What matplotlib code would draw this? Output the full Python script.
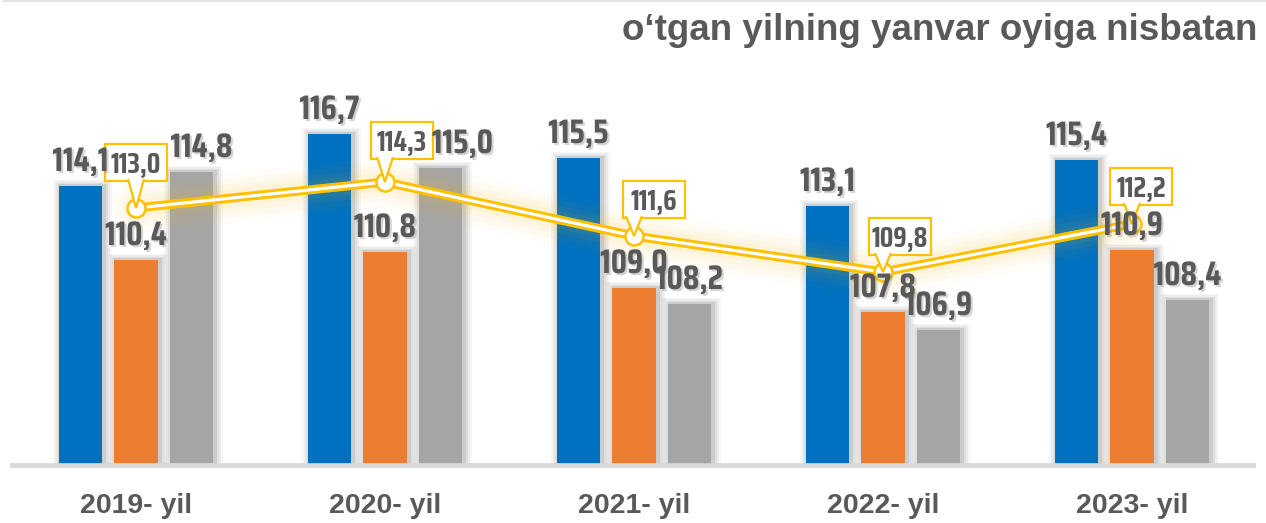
import numpy as np
import matplotlib.pyplot as plt
from matplotlib.lines import Line2D
from matplotlib.patches import Rectangle, Polygon
from matplotlib.textpath import TextPath
from matplotlib.font_manager import FontProperties
from matplotlib.transforms import ScaledTranslation
import matplotlib.patheffects as pe
from matplotlib import font_manager

YILLAR = ['2019- yil', '2020- yil', '2021- yil', '2022- yil', '2023- yil']
KOK = [114.1, 116.7, 115.5, 113.1, 115.4]
ZARG = [110.4, 110.8, 109.0, 107.8, 110.9]
KUL = [114.8, 115.0, 108.2, 106.9, 108.4]
CHIZIQ = [113.0, 114.3, 111.6, 109.8, 112.2]

# yorliq siljishlari (piksel)
KUL_SILJISH = [10, 22, 0, 0, 0]
BOX_DX = [0, 17, 20, 17, 9]
BOX_DY = [46, 42, 37, 36, 38]

# eng tor qalin shriftni tanlash ("114,1" kenglik/balandlik ~ 52/24)
ff = font_manager.fontManager.ttflist
NOMZOD = ['Fira Sans Extra Condensed', 'Fira Sans Condensed', 'Roboto Condensed',
          'Archivo Narrow', 'PT Sans Narrow', 'Liberation Sans Narrow', 'Barlow Condensed',
          'Saira ExtraCondensed', 'Saira Condensed', 'IBM Plex Sans Condensed',
          'Encode Sans Condensed', 'Asap Condensed', 'Barlow Semi Condensed',
          'Saira SemiCondensed']
OGIR = ['Fjalla One', 'Oswald', 'Anton']
best, best_d = 'Liberation Sans', 1e9
for nm in NOMZOD + OGIR:
    ws = [f.weight for f in ff if f.name == nm]
    ws = [w if isinstance(w, int) else 700 for w in ws]
    if not ws:
        continue
    if nm in NOMZOD and max(ws) < 600:
        continue
    fp_ = FontProperties(family=nm, weight='bold')
    try:
        h = TextPath((0, 0), '0', size=100, prop=fp_).get_extents().height
        wd = TextPath((0, 0), '114,1', size=100, prop=fp_).get_extents().width
    except Exception:
        continue
    d = abs(wd / h - 52 / 24) + (0.15 if nm in OGIR else 0)
    if d < best_d:
        best, best_d = nm, d
narrow = best
FP = FontProperties(family=narrow, weight='bold')
H0 = TextPath((0, 0), '0', size=100, prop=FP).get_extents().height
FS_BIG = 24 * 72 / H0   # raqam balandligi 24 px
FS_BOX = 20 * 72 / H0   # raqam balandligi 20 px

MATN = '#595959'
BLUE, ORANGE, GRAY, GOLD = '#0070C0', '#ED7D31', '#A5A5A5', '#FFC000'

fig = plt.figure(figsize=(12.66, 5.23), dpi=100)
ax = fig.add_axes([10 / 1266, 55 / 523, 1246 / 1266, 408 / 523])
ax.set_xlim(-0.506, 4.498)
ax.set_ylim(100, 120.4)
ax.axis('off')

x = np.arange(len(YILLAR))
w = 0.173
off = 0.223
px = 1 / 249  # x birlik / piksel

for dx, vals, col in [(-off, KOK, BLUE), (0, ZARG, ORANGE), (off, KUL, GRAY)]:
    # yumshoq soya
    for k, a in [(8, 0.03), (6, 0.045), (4, 0.06), (2, 0.08)]:
        ax.bar(x + dx + 2 * px, np.array(vals) - 100 + k * 0.04, w + 2 * k * px, bottom=100,
               color='k', alpha=a, zorder=1, linewidth=0)
    ax.bar(x + dx, np.array(vals) - 100, w, bottom=100, color=col, zorder=2, linewidth=0)

# chiziq (porlash bilan)
for lw, a in [(36, 0.025), (28, 0.035), (20, 0.045), (13, 0.06)]:
    ax.plot(x, CHIZIQ, color=GOLD, lw=lw, alpha=a, solid_capstyle='round', zorder=3)
ax.plot(x, CHIZIQ, color=GOLD, lw=6.5, zorder=4, solid_capstyle='round')
ax.plot(x, CHIZIQ, color='white', lw=2.3, zorder=5, solid_capstyle='round')
ax.plot(x, CHIZIQ, 'o', ms=13, mfc='white', mec=GOLD, mew=1.8, zorder=6)

# chaqiruv qutilari
BW, BH = 62, 37
for i, v in enumerate(CHIZIQ):
    tr = ScaledTranslation(i, v, ax.transData)
    cx, cy = BOX_DX[i], BOX_DY[i]
    l, b = cx - BW / 2, cy - BH / 2
    ax.add_artist(Rectangle((l, b), BW, BH, transform=tr, fc='white', ec=GOLD, lw=1.6,
                            zorder=8, clip_on=False))
    b0 = max(-8, l + 3)
    b1 = min(8, l + BW - 3)
    ax.add_artist(Polygon([(b0, b + 1.5), (0, 0), (b1, b + 1.5)], closed=False, transform=tr,
                          fc='white', ec=GOLD, lw=1.6, zorder=8.5, clip_on=False))
    ax.annotate(f'{v:.1f}'.replace('.', ','), xy=(i, v), xycoords='data',
                xytext=(cx, cy - 10), textcoords='offset pixels',
                ha='center', va='baseline', fontproperties=FP, fontsize=FS_BOX,
                color=MATN, zorder=9)

txt_fx = [pe.SimplePatchShadow(offset=(1.5, -1.5), shadow_rgbFace='#888888', alpha=0.35), pe.Normal()]
for dx, vals, sil in [(-off, KOK, [0] * 5), (0, ZARG, [0] * 5), (off, KUL, KUL_SILJISH)]:
    for i, v in enumerate(vals):
        ax.annotate(f'{v:.1f}'.replace('.', ','), xy=(i + dx, v), xycoords='data',
                    xytext=(sil[i], 15), textcoords='offset pixels',
                    ha='center', va='baseline', fontproperties=FP, fontsize=FS_BIG,
                    color=MATN, zorder=10, path_effects=txt_fx)

# asos chizig'i
ax.axhline(100, color='#D9D9D9', lw=7, zorder=7)

for i, t in enumerate(YILLAR):
    ax.text(i, 98.1, t, ha='center', va='center', fontsize=20.5, fontweight='bold',
            family='Liberation Sans', color=MATN)

fig.text(1257 / 1266, 1 - 30 / 523, 'o\u2018tgan yilning yanvar oyiga nisbatan',
         ha='right', va='center', fontsize=26.5, fontweight='bold',
         family='Liberation Sans', color=MATN)
fig.add_artist(Line2D([3 / 1266, 1], [1 - 1 / 523] * 2, color='#E3E3E3', lw=1.5))

plt.savefig('out.png', dpi=100)
